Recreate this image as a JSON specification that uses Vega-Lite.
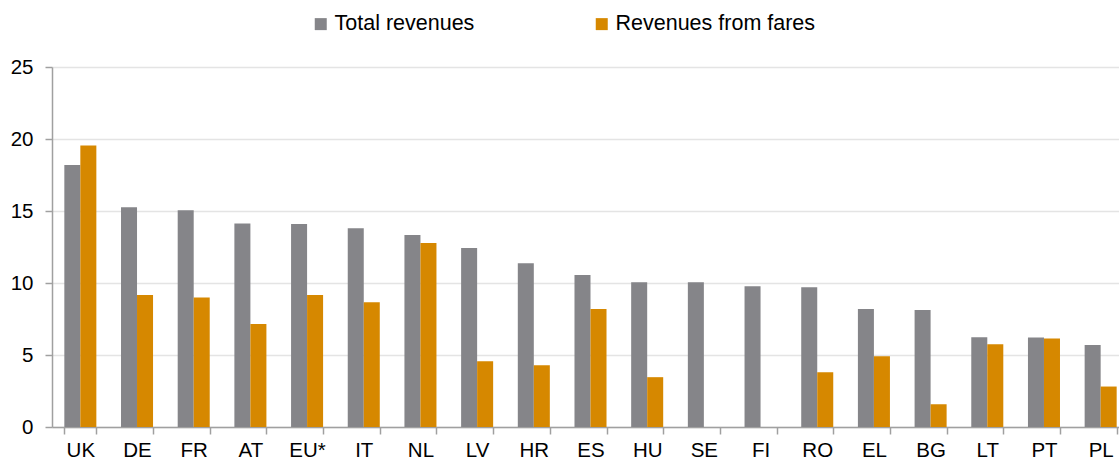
{
  "$schema": "https://vega.github.io/schema/vega-lite/v6.json",
  "width": 1067,
  "height": 360,
  "autosize": "none",
  "padding": {"left": 52, "top": 67, "right": 0, "bottom": 35},
  "background": "white",
  "data": {
    "values": [
      {"country": "UK", "series": "Total revenues", "value": 18.2},
      {"country": "UK", "series": "Revenues from fares", "value": 19.55},
      {"country": "DE", "series": "Total revenues", "value": 15.26},
      {"country": "DE", "series": "Revenues from fares", "value": 9.16},
      {"country": "FR", "series": "Total revenues", "value": 15.05},
      {"country": "FR", "series": "Revenues from fares", "value": 9.0},
      {"country": "AT", "series": "Total revenues", "value": 14.14},
      {"country": "AT", "series": "Revenues from fares", "value": 7.15},
      {"country": "EU*", "series": "Total revenues", "value": 14.1},
      {"country": "EU*", "series": "Revenues from fares", "value": 9.16},
      {"country": "IT", "series": "Total revenues", "value": 13.8},
      {"country": "IT", "series": "Revenues from fares", "value": 8.67},
      {"country": "NL", "series": "Total revenues", "value": 13.33},
      {"country": "NL", "series": "Revenues from fares", "value": 12.77},
      {"country": "LV", "series": "Total revenues", "value": 12.43},
      {"country": "LV", "series": "Revenues from fares", "value": 4.57},
      {"country": "HR", "series": "Total revenues", "value": 11.38},
      {"country": "HR", "series": "Revenues from fares", "value": 4.29},
      {"country": "ES", "series": "Total revenues", "value": 10.55},
      {"country": "ES", "series": "Revenues from fares", "value": 8.19},
      {"country": "HU", "series": "Total revenues", "value": 10.06},
      {"country": "HU", "series": "Revenues from fares", "value": 3.46},
      {"country": "SE", "series": "Total revenues", "value": 10.06},
      {"country": "FI", "series": "Total revenues", "value": 9.78},
      {"country": "RO", "series": "Total revenues", "value": 9.71},
      {"country": "RO", "series": "Revenues from fares", "value": 3.8},
      {"country": "EL", "series": "Total revenues", "value": 8.19},
      {"country": "EL", "series": "Revenues from fares", "value": 4.92},
      {"country": "BG", "series": "Total revenues", "value": 8.12},
      {"country": "BG", "series": "Revenues from fares", "value": 1.58},
      {"country": "LT", "series": "Total revenues", "value": 6.24},
      {"country": "LT", "series": "Revenues from fares", "value": 5.75},
      {"country": "PT", "series": "Total revenues", "value": 6.22},
      {"country": "PT", "series": "Revenues from fares", "value": 6.15},
      {"country": "PL", "series": "Total revenues", "value": 5.7},
      {"country": "PL", "series": "Revenues from fares", "value": 2.81}
    ]
  },
  "mark": {"type": "bar", "clip": false},
  "encoding": {
    "x": {
      "field": "country",
      "type": "nominal",
      "sort": null,
      "scale": {"paddingInner": 0.435, "paddingOuter": 0.2175, "range": [0, 1077]},
      "axis": {
        "title": null,
        "labelAngle": 0,
        "labelFontSize": 20.5,
        "labelFont": "Liberation Sans",
        "labelColor": "#000000",
        "labelPadding": 6,
        "domainColor": "#a0a0a0",
        "domainWidth": 1.5,
        "tickColor": "#a0a0a0",
        "tickWidth": 1.5,
        "tickSize": 7,
        "tickBand": "extent",
        "grid": false
      }
    },
    "xOffset": {"field": "series", "type": "nominal", "sort": ["Total revenues", "Revenues from fares"]},
    "y": {
      "field": "value",
      "type": "quantitative",
      "scale": {"domain": [0, 25]},
      "axis": {
        "title": null,
        "values": [0, 5, 10, 15, 20, 25],
        "labelFontSize": 20.5,
        "labelFont": "Liberation Sans",
        "labelColor": "#000000",
        "labelPadding": 12,
        "domainColor": "#a0a0a0",
        "domainWidth": 1.5,
        "tickColor": "#a0a0a0",
        "tickWidth": 1.5,
        "tickSize": 7,
        "gridColor": "#e4e4e4",
        "gridWidth": 1.5
      }
    },
    "color": {
      "field": "series",
      "type": "nominal",
      "sort": ["Total revenues", "Revenues from fares"],
      "scale": {"domain": ["Total revenues", "Revenues from fares"], "range": ["#858589", "#d68800"]},
      "legend": {
        "title": null,
        "orient": "none",
        "direction": "horizontal",
        "legendX": 258,
        "legendY": -54,
        "symbolType": "square",
        "symbolSize": 144,
        "symbolStrokeWidth": 0,
        "symbolOpacity": 1,
        "labelFontSize": 21.5,
        "labelFont": "Liberation Sans",
        "labelColor": "#000000",
        "labelOffset": 3,
        "labelLimit": 0,
        "columnPadding": 116
      }
    }
  },
  "config": {"view": {"stroke": null}}
}
